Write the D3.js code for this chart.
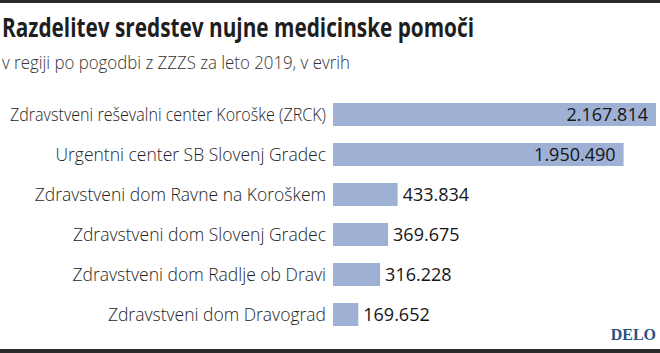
<!DOCTYPE html>
<html lang="sl">
<head>
  <meta charset="UTF-8">
  <title>Razdelitev sredstev nujne medicinske pomoči</title>
  <script src="https://d3js.org/d3.v7.min.js"></script>
  <style>
    body { margin: 0; background: #fff; }
    svg { display: block; font-family: "Open Sans", "Noto Sans", sans-serif; }
  </style>
</head>
<body>
  <svg id="chart"></svg>

  <script>
    const width = 660, height = 353;

    // data
    const ustanove = [
      "Zdravstveni reševalni center Koroške (ZRCK)",
      "Urgentni center SB Slovenj Gradec",
      "Zdravstveni dom Ravne na Koroškem",
      "Zdravstveni dom Slovenj Gradec",
      "Zdravstveni dom Radlje ob Dravi",
      "Zdravstveni dom Dravograd"
    ];
    const zneski = [2167814, 1950490, 433834, 369675, 316228, 169652];

    const svg = d3.select("#chart")
      .attr("width", width)
      .attr("height", height);

    // top and bottom rules
    svg.append("rect").attr("x", 0).attr("y", 0).attr("width", width).attr("height", 3).attr("fill", "#2a2a2a");
    svg.append("rect").attr("x", 0).attr("y", 349).attr("width", width).attr("height", 4).attr("fill", "#2a2a2a");

    svg.append("text")
      .attr("x", 2).attr("y", 37)
      .attr("font-size", 27.5).attr("font-weight", 700)
      .attr("fill", "#1e1e1e")
      .attr("textLength", 472).attr("lengthAdjust", "spacingAndGlyphs")
      .text("Razdelitev sredstev nujne medicinske pomoči");

    svg.append("text")
      .attr("x", 2).attr("y", 69)
      .attr("font-size", 17.5).attr("font-weight", 300)
      .attr("fill", "#333")
      .attr("textLength", 348).attr("lengthAdjust", "spacingAndGlyphs")
      .text("v regiji po pogodbi z ZZZS za leto 2019, v evrih");

    const x = d3.scaleLinear()
      .domain([0, d3.max(zneski)])
      .range([333, 656]);

    const y = d3.scaleBand()
      .domain(ustanove)
      .range([94.5, 334.5])
      .paddingInner(0.425)
      .paddingOuter(0.2125);

    const rows = svg.append("g")
      .selectAll("g")
      .data(ustanove.map((u, i) => ({ name: u, value: zneski[i] })))
      .join("g");

    rows.append("rect")
      .attr("x", x(0))
      .attr("y", d => y(d.name))
      .attr("width", d => x(d.value) - x(0))
      .attr("height", y.bandwidth())
      .attr("fill", "#9eb0d4");

    rows.append("text")
      .attr("x", 326)
      .attr("y", d => y(d.name) + y.bandwidth() / 2)
      .attr("dy", "0.36em")
      .attr("text-anchor", "end")
      .attr("font-size", 17.5)
      .attr("font-weight", 300)
      .attr("fill", "#1e1e1e")
      .text(d => d.name)
      .each(function() {
        // the longest label has to start near the left edge
        if (this.getComputedTextLength() > 316) {
          d3.select(this).attr("textLength", 316).attr("lengthAdjust", "spacingAndGlyphs");
        }
      });

    const fmt = v => d3.format(",")(v).replace(/,/g, ".");

    rows.append("text")
      .attr("x", d => d.value > 1000000 ? x(d.value) - 8 : x(d.value) + 5)
      .attr("y", d => y(d.name) + y.bandwidth() / 2)
      .attr("dy", "0.36em")
      .attr("text-anchor", d => d.value > 1000000 ? "end" : "start")
      .attr("font-size", 18)
      .attr("font-weight", 400)
      .attr("fill", "#151515")
      .text(d => fmt(d.value));

    svg.append("text")
      .attr("x", 656).attr("y", 340)
      .attr("text-anchor", "end")
      .style("font-family", "'Liberation Serif', 'DejaVu Serif', serif")
      .attr("font-size", 16).attr("font-weight", 700)
      .attr("fill", "#2b4f82")
      .text("DELO");
  </script>
</body>
</html>
